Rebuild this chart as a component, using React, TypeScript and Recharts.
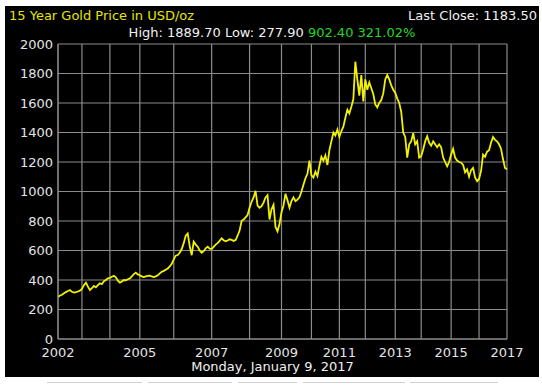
import { LineChart, Line, XAxis, YAxis, CartesianGrid } from "recharts";

// gold closes, every 2px; each array is one calendar year
const y2002 = [285, 295, 300, 310, 318, 325, 332, 320, 315, 318, 322, 328];
const y2003 = [340, 365, 382, 355, 332, 345, 360, 350, 365, 378, 372, 392, 400, 412];
const y2004 = [415, 422, 428, 418, 395, 382, 390, 400, 398, 405, 411, 425, 440, 450, 438];
const y2005 = [432, 425, 420, 425, 428, 430, 424, 420, 425, 432, 445, 456, 462, 470, 478, 492, 510];
const y2006 = [540, 565, 569, 585, 610, 650, 700, 715, 630, 568, 660, 640, 626, 600, 585, 595, 615, 626, 612];
const y2007 = [610, 625, 640, 650, 665, 683, 670, 662, 668, 676, 672, 665, 671, 700, 735, 800, 810, 825, 840];
const y2008 = [890, 930, 960, 1005, 905, 890, 900, 925, 960, 975, 810, 880, 910, 760, 730, 780];
const y2009 = [860, 905, 985, 940, 890, 935, 960, 935, 945, 960, 1000, 1045, 1090, 1120, 1210];
const y2010 = [1110, 1095, 1135, 1105, 1175, 1235, 1210, 1245, 1180, 1280, 1340, 1400, 1380, 1420];
const y2011 = [1370, 1410, 1440, 1500, 1555, 1530, 1575, 1625, 1880, 1760, 1650, 1790, 1610];
const y2012 = [1760, 1690, 1740, 1700, 1660, 1590, 1570, 1600, 1620, 1665, 1760, 1790, 1760, 1720, 1690];
const y2013 = [1670, 1630, 1600, 1540, 1400, 1370, 1230, 1320, 1340, 1395, 1320, 1340, 1230];
const y2014 = [1240, 1285, 1340, 1375, 1330, 1310, 1340, 1320, 1300, 1320, 1300, 1230, 1200, 1170, 1200];
const y2015 = [1250, 1290, 1230, 1210, 1200, 1195, 1180, 1130, 1150, 1100, 1145, 1160, 1095, 1070];
const y2016 = [1085, 1140, 1250, 1235, 1270, 1280, 1330, 1370, 1350, 1340, 1320, 1290, 1220, 1160];
const y2017 = [1150];

const years = [2002, 2003, 2004, 2005, 2006, 2007, 2008, 2009, 2010, 2011, 2012, 2013, 2014, 2015, 2016, 2017];
const yearSeries = [y2002, y2003, y2004, y2005, y2006, y2007, y2008, y2009, y2010, y2011, y2012, y2013, y2014, y2015, y2016, y2017];
const labeledYears = [2002, 2005, 2007, 2009, 2011, 2013, 2015, 2017];
const priceTicks = [0, 200, 400, 600, 800, 1000, 1200, 1400, 1600, 1800, 2000];

const yearStarts: number[] = [];
const data: { i: number; price: number }[] = [];
yearSeries.forEach((arr) => {
  yearStarts.push(data.length);
  arr.forEach((p) => data.push({ i: data.length, price: p }));
});
const lastIdx = data.length - 1;

const font = "'DejaVu Sans', Verdana, sans-serif";
const tickStyle = { fill: "#e4e4e4", fontSize: 13, fontFamily: font };

function yearLabel(v: number) {
  const k = yearStarts.indexOf(v);
  const yr = years[k];
  return labeledYears.includes(yr) ? String(yr) : "";
}

// the grey tab outlines peeking under the panel
const tabs = [[47, 142], [148, 232], [238, 297], [303, 405], [410, 498]];

export default function App() {
  return (
    <div style={{ position: "absolute", left: 0, top: 0, width: 542, height: 385, background: "#fff", overflow: "hidden", fontFamily: font }}>
      <div style={{ position: "absolute", left: 5, top: 6, width: 534, height: 371, background: "#000" }} />
      {tabs.map(([a, b], k) => (
        <div key={k} style={{ position: "absolute", left: a, top: 382, width: b - a, height: 1, background: "#cfcfcf" }} />
      ))}

      <div style={{ position: "absolute", left: 9, top: 8, fontSize: 13, color: "#e6e600", whiteSpace: "nowrap" }}>
        15 Year Gold Price in USD/oz
      </div>
      <div style={{ position: "absolute", right: 5, top: 8, fontSize: 13, color: "#f0f0f0", whiteSpace: "nowrap" }}>
        Last Close: 1183.50
      </div>
      <div style={{ position: "absolute", left: 0, width: 544, top: 25, fontSize: 13, color: "#f0f0f0", textAlign: "center", whiteSpace: "nowrap" }}>
        High: 1889.70 Low: 277.90 <span style={{ color: "#22d822" }}>902.40 321.02%</span>
      </div>
      <div style={{ position: "absolute", left: 0, width: 545, top: 359, fontSize: 13, color: "#f0f0f0", textAlign: "center", whiteSpace: "nowrap" }}>
        Monday, January 9, 2017
      </div>

      <div style={{ position: "absolute", left: 0, top: 0 }}>
        <LineChart width={542} height={385} data={data} margin={{ top: 44, right: 35, bottom: 26, left: 8 }}>
          <CartesianGrid stroke="#8c8c8c" strokeWidth={1.2} />
          <XAxis
            dataKey="i"
            type="number"
            domain={[0, lastIdx]}
            ticks={yearStarts}
            interval={0}
            tickFormatter={yearLabel}
            tick={tickStyle}
            tickLine={false}
            tickSize={6}
            tickMargin={3}
            height={20}
            axisLine={{ stroke: "#8c8c8c" }}
          />
          <YAxis
            domain={[0, 2000]}
            ticks={priceTicks}
            interval={0}
            tick={tickStyle}
            tickLine={false}
            tickSize={5}
            tickMargin={0}
            width={50}
            axisLine={{ stroke: "#8c8c8c" }}
          />
          <Line
            dataKey="price"
            type="linear"
            stroke="#f2f200"
            strokeWidth={1.8}
            dot={false}
            isAnimationActive={false}
          />
        </LineChart>
      </div>
    </div>
  );
}
